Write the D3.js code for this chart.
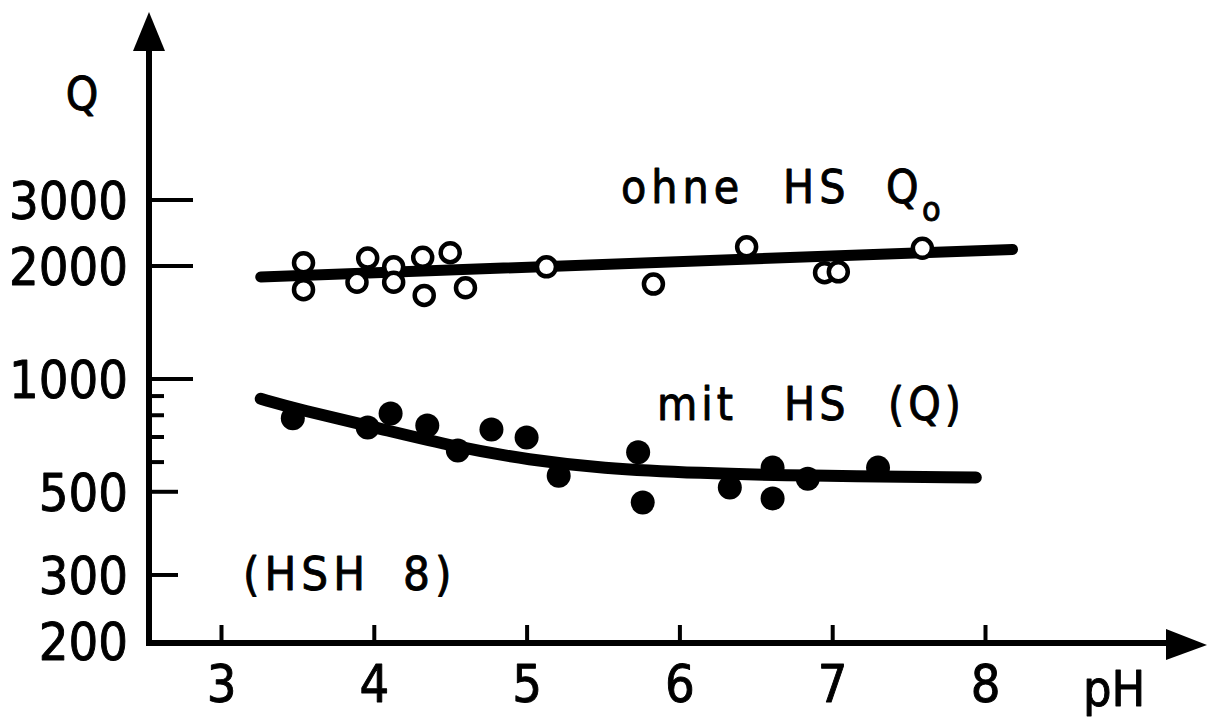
<!DOCTYPE html>
<html>
<head>
<meta charset="utf-8">
<script src="https://cdn.jsdelivr.net/npm/d3@7"></script>
<style>
  html, body { margin: 0; padding: 0; background: #fff; }
  svg { display: block; }
  text { font-family: "DejaVu Sans Condensed", "DejaVu Sans", sans-serif; font-stretch: condensed; fill: #000; stroke: #000; stroke-width: 0.9px; stroke-linejoin: round; }
</style>
</head>
<body>
<svg id="chart" width="1207" height="719"></svg>
<script>
// pH values and Q values of the measurements without humic substances (open circles)
const ohnePH = [3.54, 3.54, 3.96, 3.89, 4.13, 4.13, 4.32, 4.33, 4.50, 4.60, 5.13, 5.83, 6.44, 6.95, 7.04, 7.59];
const ohneQ  = [2040, 1730, 2100, 1810, 1990, 1810, 2110, 1670, 2170, 1750, 1990, 1790, 2250, 1920, 1930, 2230];

// measurements with humic substances (filled dots)
const mitPH = [3.47, 3.96, 4.11, 4.35, 4.55, 4.77, 5.00, 5.21, 5.73, 5.76, 6.33, 6.61, 6.61, 6.84, 7.30];
const mitQ  = [785, 742, 809, 751, 644, 733, 698, 552, 637, 468, 513, 580, 480, 542, 580];

// fitted trend lines
const ohneFitPH = [3.26, 8.18];
const ohneFitQ  = [1870, 2215];
const mitFitPH = [3.26, 3.52, 4.00, 4.55, 5.02, 5.48, 6.14, 6.79, 7.94];
const mitFitQ  = [885, 826, 744, 656, 608, 578, 560, 552, 546];

// axis ticks
const xTicks = [3, 4, 5, 6, 7, 8];
const yLabelTicks = [200, 300, 500, 1000, 2000, 3000];
const yLongTicks = [1000, 2000, 3000];
const yMidTicks = [300, 500];
const yMinorTicks = [600, 700, 800, 900];

const svg = d3.select("#chart");

const x = d3.scaleLinear().domain([3, 8]).range([221, 985]);
const y = d3.scaleLog().domain([200, 3000]).range([641, 200]);

const axisX = 149;   // position of the vertical axis
const axisY = 643;   // position of the horizontal axis

// axes with arrowheads
svg.append("line")
  .attr("x1", axisX).attr("y1", axisY + 3)
  .attr("x2", axisX).attr("y2", 48)
  .attr("stroke", "#000").attr("stroke-width", 6);
svg.append("path")
  .attr("d", `M${axisX},12 L${axisX - 16},51 L${axisX + 16},51 Z`)
  .attr("fill", "#000");

svg.append("line")
  .attr("x1", axisX - 3).attr("y1", axisY)
  .attr("x2", 1170).attr("y2", axisY)
  .attr("stroke", "#000").attr("stroke-width", 6);
svg.append("path")
  .attr("d", `M1207,${axisY + 2} L1166,${axisY - 14} L1166,${axisY + 17} Z`)
  .attr("fill", "#000");

// x ticks pointing up, labels below
const gx = svg.append("g").attr("transform", `translate(0,${axisY})`)
  .call(d3.axisBottom(x).tickValues(xTicks).tickSizeInner(-18).tickSizeOuter(0).tickPadding(22).tickFormat(d3.format("d")));
gx.select(".domain").remove();
gx.selectAll(".tick line").attr("stroke", "#000").attr("stroke-width", 4);
gx.selectAll(".tick text").attr("font-size", 52).attr("font-family", null);

// y ticks pointing right
function yTicks(vals, len) {
  svg.append("g").selectAll("line").data(vals).join("line")
    .attr("x1", axisX).attr("x2", axisX + len)
    .attr("y1", d => y(d)).attr("y2", d => y(d))
    .attr("stroke", "#000").attr("stroke-width", 4);
}
yTicks(yLongTicks, 44);
yTicks(yMidTicks, 29);
yTicks(yMinorTicks, 15);

svg.append("g").selectAll("text").data(yLabelTicks).join("text")
  .attr("x", 128).attr("y", d => y(d) + 19)
  .attr("text-anchor", "end").attr("font-size", 52)
  .text(d => d);

// axis titles
svg.append("text").attr("x", 82).attr("y", 110).attr("text-anchor", "middle").attr("font-size", 46).text("Q");
svg.append("text").attr("x", 1083).attr("y", 706).attr("font-size", 50).text("pH");

// trend lines
const line = d3.line().x(d => x(d[0])).y(d => y(d[1]));
svg.append("path")
  .attr("d", line(d3.zip(ohneFitPH, ohneFitQ)))
  .attr("fill", "none").attr("stroke", "#000").attr("stroke-width", 11).attr("stroke-linecap", "round");
svg.append("path")
  .attr("d", line.curve(d3.curveBasis)(d3.zip(mitFitPH, mitFitQ)))
  .attr("fill", "none").attr("stroke", "#000").attr("stroke-width", 12).attr("stroke-linecap", "round");

// data points
svg.append("g").selectAll("circle").data(d3.zip(mitPH, mitQ)).join("circle")
  .attr("cx", d => x(d[0])).attr("cy", d => y(d[1])).attr("r", 12)
  .attr("fill", "#000");
svg.append("g").selectAll("circle").data(d3.zip(ohnePH, ohneQ)).join("circle")
  .attr("cx", d => x(d[0])).attr("cy", d => y(d[1])).attr("r", 9.5)
  .attr("fill", "#fff").attr("stroke", "#000").attr("stroke-width", 4.5);

// series annotations
function label(str, px, py, size, spacing) {
  svg.append("text").attr("x", px).attr("y", py).attr("font-size", size)
    .attr("letter-spacing", spacing).text(str);
}
label("ohne", 621, 203, 46, 5);
label("HS", 783, 203, 46, 5);
label("Q", 886, 203, 46, 0);
label("o", 922, 221, 34, 0);

label("mit", 657, 420, 46, 4);
label("HS", 784, 420, 46, 4);
label("(Q)", 888, 420, 46, 4);

label("(HSH", 243, 590, 47, 5);
label("8)", 403, 590, 47, 5);
</script>
</body>
</html>
